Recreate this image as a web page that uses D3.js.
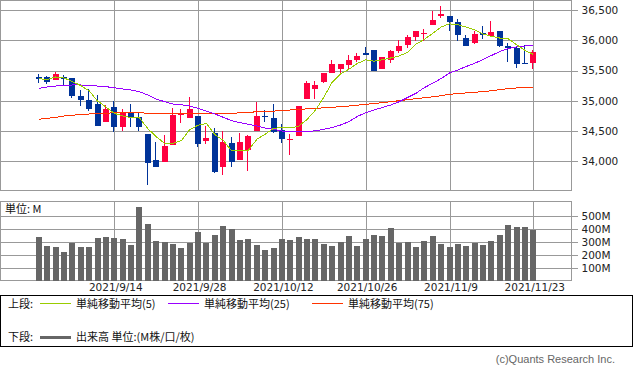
<!DOCTYPE html>
<html>
<head>
<meta charset="utf-8">
<script src="https://cdn.jsdelivr.net/npm/d3@7"></script>
<style>
  body { margin: 0; background: #fff; }
  svg { display: block; }
  .num { font-family: "DejaVu Sans", sans-serif; font-size: 10.5px; fill: #222; }
  .jp { font-family: "Noto Sans CJK JP", sans-serif; font-size: 11px; fill: #111; }
</style>
</head>
<body>
<div id="chart"></div>
<script>
// trading days shown on the x axis
const dates = [
  '2021/8/31', '2021/9/1', '2021/9/2', '2021/9/3', '2021/9/7', '2021/9/8', '2021/9/9', '2021/9/10', '2021/9/13', '2021/9/14',
  '2021/9/15', '2021/9/16', '2021/9/17', '2021/9/20', '2021/9/21', '2021/9/22', '2021/9/23', '2021/9/24', '2021/9/27', '2021/9/28',
  '2021/9/29', '2021/9/30', '2021/10/1', '2021/10/4', '2021/10/5', '2021/10/6', '2021/10/7', '2021/10/8', '2021/10/11', '2021/10/12',
  '2021/10/13', '2021/10/14', '2021/10/15', '2021/10/18', '2021/10/19', '2021/10/20', '2021/10/21', '2021/10/22', '2021/10/25', '2021/10/26',
  '2021/10/27', '2021/10/28', '2021/10/29', '2021/11/1', '2021/11/2', '2021/11/3', '2021/11/4', '2021/11/5', '2021/11/8', '2021/11/9',
  '2021/11/10', '2021/11/11', '2021/11/12', '2021/11/15', '2021/11/16', '2021/11/17', '2021/11/18', '2021/11/19', '2021/11/22', '2021/11/23'
];

const opens = [
  35398, 35388, 35344, 35398, 35377, 35079, 35013, 34947, 34650, 34893,
  34573, 34803, 34737, 34451, 34022, 33994, 34275, 34760, 34721, 34749,
  34341, 34473, 33911, 34298, 34022, 34187, 34496, 34749, 34716, 34518,
  34352, 34416, 35025, 35200, 35316, 35464, 35520, 35596, 35674, 35790,
  35839, 35530, 35674, 35823, 35927, 36049, 36104, 36247, 36406, 36406,
  36302, 36038, 35950, 36120, 36070, 36153, 35905, 35877, 35630, 35619
];
const highs = [
  35443, 35410, 35476, 35430, 35377, 35178, 35189, 35101, 34926, 34992,
  34860, 34947, 34803, 34451, 34319, 34435, 34876, 34859, 35068, 34749,
  34584, 34551, 34496, 34397, 34473, 34440, 34980, 34848, 34947, 34617,
  34451, 34914, 35332, 35327, 35459, 35674, 35603, 35757, 35795, 35889,
  35839, 35729, 35839, 36004, 36092, 36153, 36181, 36483, 36571, 36406,
  36351, 36092, 36148, 36236, 36318, 36153, 35960, 35894, 35922, 35839
];
const lows = [
  35289, 35278, 35344, 35255, 35046, 34914, 34836, 34584, 34650, 34485,
  34507, 34572, 34496, 33604, 33901, 33994, 34275, 34638, 34721, 34242,
  34286, 33812, 33779, 33901, 34022, 33845, 34496, 34650, 34473, 34298,
  34100, 34416, 35025, 35025, 35289, 35454, 35443, 35520, 35641, 35757,
  35487, 35530, 35619, 35795, 35872, 35993, 35983, 36247, 36373, 36158,
  35993, 35910, 35933, 36026, 36070, 35894, 35646, 35547, 35603, 35525
];
const closes = [
  35355, 35311, 35443, 35365, 35079, 35013, 34870, 34584, 34860, 34562,
  34815, 34737, 34572, 33967, 33911, 34253, 34770, 34793, 34865, 34286,
  34385, 33824, 34319, 33994, 34319, 34418, 34749, 34727, 34485, 34364,
  34374, 34914, 35294, 35261, 35459, 35603, 35603, 35674, 35740, 35757,
  35487, 35719, 35818, 35905, 36049, 36153, 36125, 36335, 36434, 36307,
  36082, 35910, 36099, 36092, 36137, 35910, 35867, 35603, 35613, 35811
];

// moving averages
const ma5 = [
  35367, 35349, 35394, 35377, 35317, 35251, 35164, 34997, 34898, 34793,
  34750, 34724, 34719, 34539, 34408, 34296, 34299, 34342, 34522, 34598,
  34625, 34441, 34346, 34173, 34176, 34181, 34363, 34447, 34546, 34558,
  34550, 34582, 34692, 34844, 35060, 35306, 35445, 35521, 35617, 35677,
  35654, 35679, 35708, 35742, 35801, 35935, 36014, 36115, 36219, 36272,
  36257, 36216, 36171, 36102, 36066, 36036, 36026, 35927, 35833, 35767
];
const ma25 = [
  35206, 35228, 35244, 35256, 35261, 35261, 35256, 35244, 35233, 35216,
  35195, 35178, 35150, 35096, 35030, 34985, 34947, 34936, 34914, 34876,
  34831, 34782, 34727, 34671, 34638, 34612, 34584, 34551, 34529, 34501,
  34485, 34485, 34490, 34506, 34529, 34559, 34600, 34655, 34741, 34803,
  34848, 34889, 34931, 34985, 35055, 35124, 35219, 35289, 35368, 35459,
  35509, 35567, 35620, 35682, 35748, 35814, 35864, 35889, 35905, 35922
];
const ma75 = [
  34694, 34711, 34727, 34749, 34761, 34774, 34782, 34787, 34794, 34803,
  34807, 34810, 34803, 34794, 34787, 34782, 34785, 34785, 34787, 34787,
  34790, 34790, 34792, 34795, 34800, 34810, 34818, 34825, 34830, 34838,
  34848, 34860, 34866, 34876, 34884, 34893, 34903, 34914, 34928, 34942,
  34955, 34969, 34985, 35002, 35018, 35035, 35050, 35065, 35085, 35107,
  35118, 35130, 35140, 35152, 35165, 35185, 35200, 35212, 35220, 35225
];

// volume in millions
const volumes = [
  339, 269, 261, 222, 294, 261, 261, 331, 339, 331,
  323, 276, 572, 440, 308, 300, 284, 253, 294, 378,
  294, 354, 424, 401, 315, 323, 276, 238, 253, 323,
  315, 339, 323, 323, 284, 269, 300, 347, 269, 323,
  354, 347, 409, 294, 300, 261, 308, 347, 284, 261,
  284, 269, 294, 276, 308, 354, 432, 417, 417, 396
];

const priceTicks = [34000, 34500, 35000, 35500, 36000, 36500];
const volumeTicks = [100, 200, 300, 400, 500];
const dateTicks = ['2021/9/14', '2021/9/28', '2021/10/12', '2021/10/26', '2021/11/9', '2021/11/23'];

const W = 633, H = 373;
const plotRight = 571.5;
const price = { top: 0.5, bottom: 190.5 };
const vol = { top: 201.5, bottom: 280.5 };
const gridColor = '#999';
const upColor = '#ff0040', downColor = '#003399';

const candles = dates.map((d, i) => ({
  date: d, open: opens[i], high: highs[i], low: lows[i], close: closes[i], volume: volumes[i]
}));

const svg = d3.select('#chart').append('svg')
  .attr('width', W).attr('height', H)
  .attr('viewBox', `0 0 ${W} ${H}`);

const x = d3.scalePoint().domain(dates).range([38.9, 533.3]);
const y = d3.scaleLinear().domain([33510, 36665]).range([191, 0]);
const yv = d3.scaleLinear().domain([0, 619]).range([280.5, 201]);
const px = d => Math.round(x(d));

// ---------- panels and grids ----------
function panel(top, bottom) {
  svg.append('rect')
    .attr('x', 0.5).attr('y', top)
    .attr('width', plotRight - 0.5).attr('height', bottom - top)
    .attr('fill', 'none').attr('stroke', gridColor)
    .attr('shape-rendering', 'crispEdges');
}
panel(price.top, price.bottom);
panel(vol.top, vol.bottom);

// vertical grid lines in both panels
[price, vol].forEach(p => {
  svg.append('g')
    .selectAll('line')
    .data(dateTicks)
    .join('line')
    .attr('x1', d => px(d) + 0.5).attr('x2', d => px(d) + 0.5)
    .attr('y1', p.top).attr('y2', p.bottom)
    .attr('stroke', gridColor)
    .attr('shape-rendering', 'crispEdges');
});

// price axis (right) with grid
const priceAxis = svg.append('g')
  .attr('transform', `translate(${plotRight},0)`)
  .call(d3.axisRight(y).tickValues(priceTicks).tickSize(6).tickSizeOuter(0).tickPadding(4)
    .tickFormat(d3.format(',')));
priceAxis.select('.domain').remove();
priceAxis.selectAll('.tick line').attr('stroke', gridColor).attr('x1', -plotRight + 0.5)
  .attr('shape-rendering', 'crispEdges');
priceAxis.selectAll('.tick text').attr('class', 'num').attr('fill', null);

// volume axis (right) with grid
const volAxis = svg.append('g')
  .attr('transform', `translate(${plotRight},0)`)
  .call(d3.axisRight(yv).tickValues(volumeTicks).tickSize(6).tickSizeOuter(0).tickPadding(4)
    .tickFormat(d => d + 'M'));
volAxis.select('.domain').remove();
volAxis.selectAll('.tick line').attr('stroke', gridColor).attr('x1', -plotRight + 0.5)
  .attr('shape-rendering', 'crispEdges');
volAxis.selectAll('.tick text').attr('class', 'num').attr('fill', null);

// date axis under the volume panel
const dateAxis = svg.append('g')
  .attr('transform', `translate(1,${vol.bottom})`)
  .call(d3.axisBottom(x).tickValues(dateTicks).tickSize(0).tickPadding(3.5));
dateAxis.select('.domain').remove();
dateAxis.selectAll('.tick text').attr('class', 'num').attr('fill', null);

// ---------- candles ----------
const gc = svg.append('g').attr('shape-rendering', 'crispEdges');
gc.selectAll('.wick')
  .data(candles)
  .join('line')
  .attr('class', 'wick')
  .attr('x1', d => px(d.date) - 0.5).attr('x2', d => px(d.date) - 0.5)
  .attr('y1', d => y(d.high)).attr('y2', d => y(d.low))
  .attr('stroke', d => d.close >= d.open ? upColor : downColor);

gc.selectAll('.body')
  .data(candles)
  .join('rect')
  .attr('class', 'body')
  .attr('x', d => px(d.date) - 3)
  .attr('width', 6)
  .attr('y', d => y(Math.max(d.open, d.close)))
  .attr('height', d => Math.max(1, Math.abs(y(d.open) - y(d.close))))
  .attr('fill', d => d.close >= d.open ? upColor : downColor);

// ---------- moving averages ----------
const maSeries = [
  { values: ma75, color: '#ff3300' },
  { values: ma25, color: '#9900ff' },
  { values: ma5, color: '#99cc00' }
];
const line = d3.line().x((v, i) => x(dates[i])).y(v => y(v));
svg.append('g')
  .selectAll('path')
  .data(maSeries)
  .join('path')
  .attr('d', s => line(s.values))
  .attr('fill', 'none')
  .attr('stroke', s => s.color)
  .attr('stroke-width', 1)
  .attr('shape-rendering', 'crispEdges');

// ---------- volume ----------
svg.append('g')
  .attr('shape-rendering', 'crispEdges')
  .selectAll('rect')
  .data(candles)
  .join('rect')
  .attr('x', d => px(d.date) - 3)
  .attr('width', 6)
  .attr('y', d => yv(d.volume))
  .attr('height', d => yv(0) - yv(d.volume))
  .attr('fill', '#666');

svg.append('text').attr('class', 'jp')
  .attr('x', 5).attr('y', 212.5)
  .text('単位: M');

// ---------- legend ----------
svg.append('rect')
  .attr('x', 0.5).attr('y', 295.5).attr('width', 632).attr('height', 51)
  .attr('fill', 'none').attr('stroke', '#000')
  .attr('shape-rendering', 'crispEdges');

svg.append('text').attr('class', 'jp').attr('x', 8).attr('y', 307.5).text('上段:');
svg.append('text').attr('class', 'jp').attr('x', 8).attr('y', 341).text('下段:');

const legendItems = [
  { x: 40, label: '単純移動平均(5)', color: '#99cc00' },
  { x: 168, label: '単純移動平均(25)', color: '#9900ff' },
  { x: 312, label: '単純移動平均(75)', color: '#ff3300' }
];
const lg = svg.append('g');
lg.selectAll('line')
  .data(legendItems)
  .join('line')
  .attr('x1', d => d.x).attr('x2', d => d.x + 31)
  .attr('y1', 303.5).attr('y2', 303.5)
  .attr('stroke', d => d.color)
  .attr('shape-rendering', 'crispEdges');
lg.selectAll('text')
  .data(legendItems)
  .join('text')
  .attr('class', 'jp')
  .attr('x', d => d.x + 36).attr('y', 307.5)
  .text(d => d.label);

svg.append('line')
  .attr('x1', 40).attr('x2', 71).attr('y1', 337).attr('y2', 337)
  .attr('stroke', '#666').attr('stroke-width', 3)
  .attr('shape-rendering', 'crispEdges');
svg.append('text').attr('class', 'jp').attr('x', 76).attr('y', 341)
  .text('出来高 単位:(M株/口/枚)');

svg.append('text')
  .attr('x', 615).attr('y', 363)
  .attr('text-anchor', 'end')
  .style('font-family', '"Liberation Sans", sans-serif')
  .style('font-size', '11px')
  .attr('fill', '#666')
  .text('(c)Quants Research Inc.');
</script>
</body>
</html>
